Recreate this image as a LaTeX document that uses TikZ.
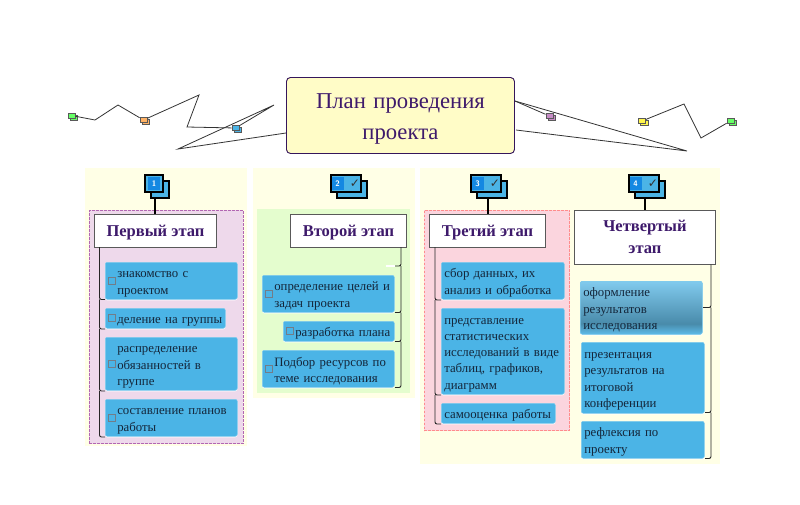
\documentclass[tikz,border=0pt]{standalone}
\usepackage{fontspec}
\setmainfont{Liberation Serif}
\newfontfamily\symfont{DejaVu Sans}
\usepackage{xcolor}
\usetikzlibrary{shadows}
\definecolor{panely}{HTML}{FFFFE6}
\definecolor{panelv}{HTML}{EED9EB}
\definecolor{panelg}{HTML}{E4FDCE}
\definecolor{panelp}{HTML}{FBD5DE}
\definecolor{itemblue}{HTML}{4BB4E6}
\definecolor{titlev}{HTML}{3E1A6B}
\definecolor{itemtext}{HTML}{14263A}
\definecolor{numblue}{HTML}{1488E2}
\pgfdeclareverticalshading{itemfade}{100bp}{color(0bp)=(itemblue!90!white); color(25bp)=(itemblue!90!white); color(35bp)=(itemblue!70!black!90!white); color(75bp)=(itemblue!70!white); color(100bp)=(itemblue!70!white)}

\begin{document}
\begin{tikzpicture}[x=.75pt,y=-.75pt,
 wh/.style 2 args={minimum width=#1*.75pt,minimum height=#2*.75pt,text width=(#1-6)*.75pt},
 panel/.style={fill=panely,draw=none,anchor=north west,inner sep=0pt},
 zone/.style={anchor=north west,inner sep=0pt,dashed,dash pattern=on 2pt off 1pt,line width=.5pt},
 mainbox/.style={draw=titlev!85!black,fill=yellow!22,rounded corners=3pt,line width=.7pt,anchor=north west,align=center,inner sep=0pt,
   font=\fontsize{17}{23}\selectfont,text=titlev,text width=171pt,execute at begin node={\rule{0pt}{16.5pt}}},
 head/.style={draw=black!65,fill=white,line width=.7pt,anchor=north west,align=center,inner sep=0pt,
   font=\bfseries\fontsize{12.4}{16.5}\selectfont,text=titlev},
 head1/.style={head,text depth=0pt},
 item/.style={fill=itemblue,draw=itemblue!70!white,line width=.4pt,rounded corners=1.5pt,anchor=north west,align=left,
   inner xsep=3*.75pt,inner ysep=0pt,font=\fontsize{9.6}{12.2}\selectfont,text=itemtext,
   general shadow={fill=white,shadow yshift=-.8pt},execute at begin node={\rule{0pt}{10pt}}},
 chk/.style={item,execute at begin node={\setlength{\leftskip}{6.75pt}\rule{0pt}{10pt}}},
 tick/.style={draw=itemtext!60,line width=.4pt,minimum size=5pt,inner sep=0pt,fill=itemblue},
 link/.style={line width=.6pt,draw=black!80},
 brk/.style={line width=.7pt,draw=black!85,rounded corners=1.5pt},
 stem/.style={line width=1.5pt},
 badge/.style={draw=black,line width=1.7pt,fill=itemblue,anchor=north west,inner sep=0pt,
   copy shadow={draw=black,fill=itemblue,shadow xshift=4.2pt,shadow yshift=-4.2pt}},
 num/.style={fill=numblue,text=white,inner sep=0pt,minimum width=9pt,minimum height=9.5pt,font=\sffamily\bfseries\fontsize{6}{6}\selectfont},
 chkmark/.style={anchor=east,inner sep=0pt,font=\symfont\fontsize{9}{9}\selectfont,text=black!80},
 dot/.style={draw=black!65,line width=.4pt,inner sep=0pt,minimum width=5.5pt,minimum height=3.6pt,fill=#1,
   copy shadow={draw=black!65,fill=#1,shadow xshift=1.6pt,shadow yshift=-1.6pt}}]
\useasboundingbox (0,0) rectangle (800,504);

\node[panel,minimum width=121.5pt,minimum height=208pt] (p1) at (85,168) {};
\node[panel,minimum width=121.5pt,minimum height=172.5pt] (p2) at (253,168) {};
\node[panel,minimum width=225pt,minimum height=222pt] (p3) at (420,168) {};
\node[zone,fill=panelv,draw=violet!60,minimum width=115.5pt,minimum height=175pt] (z1) at (89,210) {};
\node[zone,fill=panelg,draw=none,minimum width=114.75pt,minimum height=138pt] (z2) at (257,209) {};
\node[zone,fill=panelp,draw=red!45,minimum width=109pt,minimum height=165.5pt] (z3) at (424,209.5) {};

\node[mainbox,minimum width=171pt,minimum height=57pt] (plan) at (286,77) {План проведения\\проекта};

\node[head1,minimum width=91.5pt,minimum height=24.75pt] (h1) at (94,214) {Первый этап};
\node[head1,minimum width=87pt,minimum height=24.75pt] (h2) at (290,214) {Второй этап};
\node[head1,minimum width=87pt,minimum height=24.75pt] (h3) at (429,214) {Третий этап};
\node[head,minimum width=105.75pt,minimum height=41pt] (h4) at (574,209.5) {Четвертый\\этап};

\node[badge,minimum width=13.5pt,minimum height=12.75pt] (b1) at (144,174) {};
\node[badge,minimum width=22.5pt,minimum height=12.75pt] (b2) at (330,174) {};
\node[badge,minimum width=22.5pt,minimum height=12.75pt] (b3) at (470,174) {};
\node[badge,minimum width=22.5pt,minimum height=12.75pt] (b4) at (628,174) {};
\node[num] (n1) at (b1.center) {1};
\node[num,anchor=west,xshift=1pt] (n2) at (b2.west) {2};
\node[num,anchor=west,xshift=1pt] (n3) at (b3.west) {3};
\node[num,anchor=west,xshift=1pt] (n4) at (b4.west) {4};
\node[chkmark] (c2) at ([xshift=-1.5pt]b2.east) {\symbol{"2713}};
\node[chkmark] (c3) at ([xshift=-1.5pt]b3.east) {\symbol{"2713}};
\node[chkmark] (c4) at ([xshift=-1.5pt]b4.east) {\symbol{"2713}};

\draw[stem] (155,198) -- (155,214);
\draw[stem] (488,198) -- (488,214);
\draw[stem] (645,198) -- (645,209.5);

\draw[brk] (99.5,247) |- (105,299.5) (99.5,299.5) |- (105,329) (99.5,329) |- (105,391) (99.5,391) |- (105,437);
\draw[brk] (401,247) |- (395,266) (401,266) |- (395,312.5) (401,312.5) |- (395,341.5) (401,341.5) |- (395,387.5);
\draw[brk] (435,247) |- (441,300) (435,300) |- (441,395) (435,395) |- (441,424);
\draw[brk] (711,264.5) |- (703,307.5) (711,307.5) |- (705,412.5) (711,412.5) |- (705,458.5);
\draw[white,line width=.8pt] (386,266) -- (395,266);

\node[chk,wh={132}{37}] (a1) at (105,262) {знакомство с\\проектом};
\node[chk,wh={120}{20}] (a2) at (105,308) {\mbox{деление на группы}};
\node[chk,wh={132}{53}] (a3) at (105,337) {распределение\\обязанностей в\\группе};
\node[chk,wh={132}{37}] (a4) at (105,399) {составление планов\\работы};
\node[chk,wh={132}{37}] (b5) at (262,275) {определение целей и\\задач проекта};
\node[chk,wh={111}{20}] (b6) at (283,321) {\mbox{разработка плана}};
\node[chk,wh={132}{37}] (b7) at (262,350) {Подбор ресурсов по\\теме исследования};
\node[item,wh={123}{37}] (d1) at (441,262) {сбор данных, их\\анализ и обработка};
\node[item,wh={123}{86}] (d2) at (441,308) {представление\\статистических\\исследований в виде\\таблиц, графиков,\\диаграмм};
\node[item,wh={114}{20}] (d3) at (441,403) {\mbox{самооценка работы}};
\node[item,wh={122}{53},shading=itemfade] (e1) at (580,281) {оформление\\результатов\\исследования};
\node[item,wh={123}{71}] (e2) at (581,342) {презентация\\результатов на\\итоговой\\конференции};
\node[item,wh={123}{37}] (e3) at (581,421) {рефлексия по\\проекту};

\node[tick] (t1) at (112,280.5) {};
\node[tick] (t2) at (112,318) {};
\node[tick] (t3) at (112,364) {};
\node[tick] (t4) at (112,417.5) {};
\node[tick] (t5) at (269,293.5) {};
\node[tick] (t6) at (289.5,331) {};
\node[tick] (t7) at (269,368.5) {};

\node[dot=green!60] (m1) at (71.5,115.5) {};
\node[dot=orange!60] (m2) at (143.5,120) {};
\node[dot=itemblue] (m3) at (235.5,128) {};
\node[dot=violet!45] (m4) at (549.5,116) {};
\node[dot=yellow!70] (m5) at (642,121) {};
\node[dot=green!60] (m6) at (730.5,121) {};

\coordinate (k1) at (95,120);
\coordinate (k2) at (118,105);
\coordinate (k3) at (199,95);
\coordinate (k4) at (187,127);
\coordinate (k5) at (274,105);
\coordinate (k6) at (178,149);
\coordinate (k7) at (687,151);
\coordinate (k8) at (684,104);
\coordinate (k9) at (701,138);

\draw[link] (m1) -- (k1) -- (k2) -- (m2);
\draw[link] (m2) -- (k3) -- (k4) -- (m3);
\draw[link] (m3) -- (k5) -- (k6) -- (plan.west |- 0,133);
\draw[link] (plan.east |- 0,101) -- (m4);
\draw[link] (plan.east |- 0,101) -- (k7) -- (516,130);
\draw[link] (m5) -- (k8) -- (k9) -- (m6);
\end{tikzpicture}
\end{document}
